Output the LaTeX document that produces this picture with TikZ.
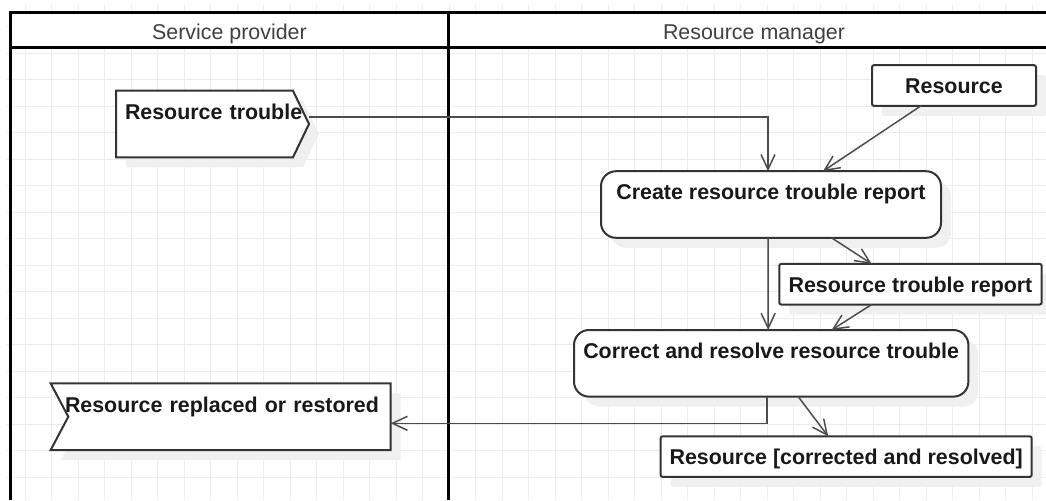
\documentclass[tikz,border=0pt]{standalone}
\usepackage{fontspec}
\setmainfont{Liberation Sans}
\usetikzlibrary{arrows.meta,shadows}
\pgfdeclarelayer{gridlayer}
\pgfdeclarelayer{shapelayer}
\pgfsetlayers{gridlayer,shapelayer,main}

\begin{document}
\begin{tikzpicture}[
		x=0.5pt, y=-0.5pt,
		font=\fontsize{10.7pt}{12.8pt}\selectfont,
		gridline/.style={draw=black!7, line width=0.5pt},
		lane/.style={draw=black, line width=1.5pt},
		lanetitle/.style={text=black!75, anchor=base},
		boxshadow/.style={drop shadow={shadow xshift=5pt, shadow yshift=-5pt, fill=black!6, opacity=1}},
		boxtext/.style={inner sep=0pt, outer sep=0pt, text height=14.3pt, text depth=6pt,
			font=\fontsize{10.7pt}{12.8pt}\selectfont\bfseries, text=black!90},
		box/.style={boxtext, draw=black!80, line width=1pt, fill=white, boxshadow, rounded corners=1pt},
		action/.style={box, rounded corners=7.5pt, text depth=19pt},
		signalnode/.style={boxtext, text depth=19pt, align=left, inner ysep=0pt},
		signalshape/.style={draw=black!80, line width=1pt, fill=white, boxshadow},
		arrow/.style={-{Straight Barb[length=7.5pt, width=7pt]}, draw=black!70, line width=0.75pt}
		]
		\useasboundingbox (0,0) rectangle (1046,500);
		
		% ---- Grid and swimlanes ----
		\begin{pgfonlayer}{gridlayer}
			\foreach \gx in {0,...,39}
			\draw[gridline] ({25+26.5*\gx},5) -- ({25+26.5*\gx},500);
			\foreach \gy in {1,...,18}
			\draw[gridline] (6,{26.5*\gy}) -- (1046,{26.5*\gy});
			\fill[white] (10.5,12) rectangle (1046,47);
			\draw[lane] (1046,12) -- (10.5,12) -- (10.5,500);
			\draw[lane] (10.5,47) -- (1046,47);
			\draw[lane] (448,12) -- (448,500);
		\end{pgfonlayer}
		
		\node[lanetitle] (provider) at (229.5,39.3) {Service provider};
		\node[lanetitle] (manager)  at (754,39.3)   {Resource manager};
		
		% ---- Service provider: signals ----
		\node[signalnode, text width=79.5pt, inner xsep=4.5pt] (trouble) at (204.5,124)
		{\mbox{Resource trouble}};
		\node[signalnode, text width=155.7pt, inner xsep=7.15pt] (replaced) at (220.7,416.7)
		{\mbox{Resource replaced or restored}};
		
		\begin{pgfonlayer}{shapelayer}
			% send signal
			\draw[signalshape] (trouble.north west) -- (trouble.north east) -- ([xshift=8pt]trouble.east)
			-- (trouble.south east) -- (trouble.south west) -- cycle;
			% receive signal
			\draw[signalshape] (replaced.north west) -- (replaced.north east) -- (replaced.south east)
			-- (replaced.south west) -- ([xshift=8.8pt]replaced.west) -- cycle;
		\end{pgfonlayer}
		
		% ---- Resource manager: actions and objects ----
		\node[box, minimum width=82pt]       (resource) at (954,85.5)    {Resource};
		\node[action, minimum width=170pt]   (create)   at (771,204.5)   {Create resource trouble report};
		\node[box, minimum width=131.2pt]    (report)   at (910.5,284.2) {Resource trouble report};
		\node[action, minimum width=197.2pt] (correct)  at (771.2,363.3) {Correct and resolve resource trouble};
		\node[box, minimum width=185.5pt]    (resolved) at (846.2,456.6) {Resource [corrected and resolved]};
		
		% ---- Flows ----
		\draw[arrow] ([xshift=8pt,yshift=3.5pt]trouble.east) -| ([xshift=-1.5pt]create.north);
		\draw[arrow] ([xshift=-16.5pt]resource.south) -- ([xshift=26pt]create.north);
		\draw[arrow] ([xshift=-1.5pt]create.south) -- ([xshift=-1.5pt]correct.north);
		\draw[arrow] ([xshift=30.3pt]create.south) -- ([xshift=-19.4pt]report.north);
		\draw[arrow] ([xshift=-19.4pt]report.south) -- ([xshift=30.2pt]correct.north);
		\draw[arrow] ([xshift=-2pt]correct.south) |- ([yshift=-3.3pt]replaced.east);
		\draw[arrow] ([xshift=13.5pt]correct.south) -- ([xshift=-9pt]resolved.north);
	\end{tikzpicture}
\end{document}
